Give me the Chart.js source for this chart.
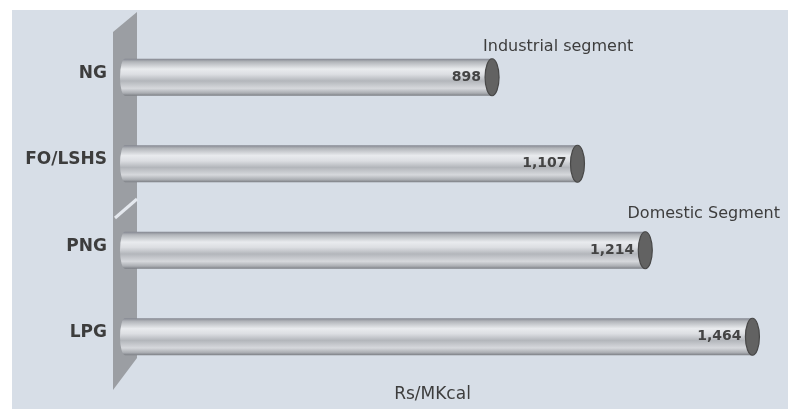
<!DOCTYPE html>
<html>
<head>
<meta charset="utf-8">
<script src="https://cdn.jsdelivr.net/npm/chart.js@4/dist/chart.umd.min.js"></script>
<style>
  html, body { margin: 0; padding: 0; background: #ffffff; }
  #wrap { width: 788px; height: 409px; }
</style>
</head>
<body>
<div id="wrap"><canvas id="c" width="788" height="409"></canvas></div>
<script>
// ---- data ----
const categories = ['NG', 'FO/LSHS', 'PNG', 'LPG'];
const industrialValues = [898, 1107, null, null];
const domesticValues = [null, null, 1214, 1464];
const valueLabels = ['898', '1,107', '1,214', '1,464'];
const seriesNames = ['Industrial segment', 'Domestic Segment'];
const unitLabel = 'Rs/MKcal';

const FONT = "'DejaVu Sans', 'Liberation Sans', sans-serif";
const TEXT = '#3d3d3d';

const backdrop = {
  id: 'backdrop',
  beforeDraw(chart) {
    const ctx = chart.ctx;
    ctx.save();
    ctx.fillStyle = '#ffffff';
    ctx.fillRect(0, 0, chart.width, chart.height);
    ctx.fillStyle = '#d7dee7';
    ctx.fillRect(12, 10, chart.width - 12, chart.height - 10);
    ctx.restore();
  },
  beforeDatasetsDraw(chart) {
    // the slanted "wall" behind the bars
    const ctx = chart.ctx;
    const a = chart.chartArea;
    const L = a.left - 12, R = a.left + 12;
    ctx.save();
    ctx.fillStyle = '#9b9ea3';
    ctx.beginPath();
    ctx.moveTo(L, 32);
    ctx.lineTo(R, 12);
    ctx.lineTo(R, 358);
    ctx.lineTo(L, 390);
    ctx.closePath();
    ctx.fill();
    // break in the wall
    ctx.strokeStyle = '#e4e8ee';
    ctx.lineWidth = 3;
    ctx.beginPath();
    ctx.moveTo(L + 2, 218);
    ctx.lineTo(R, 199);
    ctx.stroke();
    ctx.restore();
  }
};

const cylinders = {
  id: 'cylinders',
  afterDatasetsDraw(chart) {
    const ctx = chart.ctx;
    ctx.save();
    chart.data.datasets.forEach((ds, di) => {
      const meta = chart.getDatasetMeta(di);
      meta.data.forEach((el, i) => {
        if (ds.data[i] == null) return;
        const x = el.x, y = el.y, base = el.base, h = el.height;
        const top = y - h / 2, bot = y + h / 2;
        const g = ctx.createLinearGradient(0, top, 0, bot);
        g.addColorStop(0, '#838690');
        g.addColorStop(0.08, '#b1b4b9');
        g.addColorStop(0.28, '#e9ebee');
        g.addColorStop(0.42, '#dcdee2');
        g.addColorStop(0.6, '#b3b6bb');
        g.addColorStop(0.8, '#d6d8dc');
        g.addColorStop(0.93, '#aaadb2');
        g.addColorStop(1, '#7a7d83');
        ctx.fillStyle = g;
        ctx.beginPath();
        ctx.moveTo(base, top);
        ctx.lineTo(x, top);
        ctx.lineTo(x, bot);
        ctx.lineTo(base, bot);
        ctx.ellipse(base, y, 5, h / 2, 0, Math.PI / 2, Math.PI * 1.5, false);
        ctx.closePath();
        ctx.fill();
        // end cap
        ctx.fillStyle = '#626262';
        ctx.strokeStyle = '#484848';
        ctx.lineWidth = 1.2;
        ctx.beginPath();
        ctx.ellipse(x, y, 7, h / 2, 0, 0, Math.PI * 2);
        ctx.fill();
        ctx.stroke();
        // value label
        ctx.fillStyle = '#444444';
        ctx.font = 'bold 14px ' + FONT;
        ctx.textAlign = 'right';
        ctx.textBaseline = 'middle';
        ctx.fillText(valueLabels[i], x - 11, y);
      });
    });
    // segment annotations
    const m0 = chart.getDatasetMeta(0).data[0];
    const m1 = chart.getDatasetMeta(1).data[2];
    ctx.fillStyle = TEXT;
    ctx.font = '16px ' + FONT;
    ctx.textBaseline = 'middle';
    ctx.textAlign = 'left';
    ctx.fillText(seriesNames[0], m0.x - 9, m0.y - m0.height / 2 - 12);
    ctx.textAlign = 'right';
    ctx.fillText(seriesNames[1], chart.chartArea.right + 10, m1.y - m1.height / 2 - 18);
    // unit label
    ctx.textAlign = 'center';
    ctx.font = '17px ' + FONT;
    ctx.fillText(unitLabel, (chart.chartArea.left + chart.chartArea.right) / 2 - 15, chart.chartArea.bottom + 15);
    ctx.restore();
  }
};

new Chart(document.getElementById('c'), {
  type: 'bar',
  data: {
    labels: categories,
    datasets: [
      { label: seriesNames[0], data: industrialValues, xAxisID: 'x', grouped: false,
        backgroundColor: 'rgba(0,0,0,0)', borderWidth: 0, barThickness: 37 },
      { label: seriesNames[1], data: domesticValues, xAxisID: 'x2', grouped: false,
        backgroundColor: 'rgba(0,0,0,0)', borderWidth: 0, barThickness: 37 }
    ]
  },
  options: {
    indexAxis: 'y',
    responsive: false,
    animation: false,
    layout: { padding: { left: 0, top: 34, right: 18, bottom: 29 } },
    plugins: { legend: { display: false }, tooltip: { enabled: false } },
    scales: {
      x: { display: false, min: 0, max: 1578 },
      x2: { display: false, min: 0, max: 1505, position: 'bottom' },
      y: {
        afterFit(scale) { scale.width = 125; },
        grid: { display: false, drawTicks: false },
        border: { display: false },
        ticks: {
          padding: 18,
          labelOffset: -4,
          color: TEXT,
          font: { family: FONT, size: 17, weight: 'bold' }
        }
      }
    }
  },
  plugins: [backdrop, cylinders]
});
</script>
</body>
</html>
